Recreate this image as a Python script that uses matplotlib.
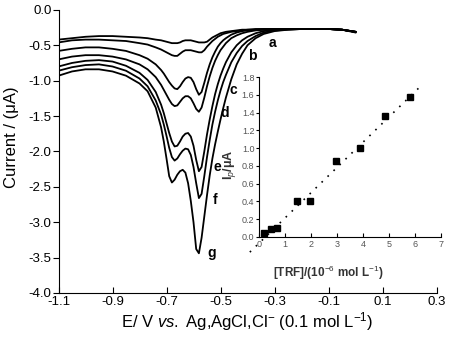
import matplotlib
matplotlib.use("Agg")
import matplotlib.pyplot as plt

plt.rcParams["font.family"] = ["Liberation Sans", "DejaVu Sans"]
plt.rcParams["axes.unicode_minus"] = False
plt.rcParams["mathtext.fontset"] = "custom"
plt.rcParams["mathtext.rm"] = "Liberation Sans"
plt.rcParams["mathtext.it"] = "Liberation Sans:italic"
plt.rcParams["mathtext.bf"] = "Liberation Sans:bold"

# potential grid (V)
E = [-1.10, -1.05, -1.00, -0.95, -0.90, -0.85, -0.80, -0.77, -0.74,
     -0.72, -0.71, -0.70, -0.69, -0.68, -0.67, -0.66, -0.65, -0.64, -0.63,
     -0.62, -0.61, -0.60, -0.59, -0.58, -0.57, -0.56, -0.55, -0.54, -0.53,
     -0.52, -0.51, -0.50, -0.49, -0.48,
     -0.46, -0.44, -0.42, -0.40, -0.37, -0.34, -0.30, -0.25, -0.20, -0.15,
     -0.10, -0.05, 0.00]

i_a = [-0.42, -0.40, -0.38, -0.37, -0.37, -0.38, -0.39, -0.40, -0.42,
       -0.43, -0.44, -0.45, -0.46, -0.47, -0.47, -0.47, -0.46, -0.44, -0.43,
       -0.43, -0.43, -0.44, -0.45, -0.46, -0.46, -0.46, -0.45, -0.42, -0.39,
       -0.37, -0.35, -0.33, -0.32, -0.31,
       -0.30, -0.29, -0.28, -0.28, -0.27, -0.27, -0.27, -0.27, -0.27, -0.27,
       -0.27, -0.28, -0.31]
i_b = [-0.46, -0.43, -0.42, -0.42, -0.43, -0.44, -0.47, -0.49, -0.53,
       -0.56, -0.58, -0.60, -0.62, -0.64, -0.65, -0.65, -0.62, -0.59, -0.57,
       -0.57, -0.57, -0.58, -0.59, -0.60, -0.60, -0.57, -0.52, -0.48, -0.44,
       -0.41, -0.38, -0.36, -0.34, -0.33,
       -0.31, -0.30, -0.29, -0.28, -0.28, -0.27, -0.27, -0.27, -0.27, -0.27,
       -0.27, -0.28, -0.31]
i_c = [-0.58, -0.55, -0.53, -0.53, -0.55, -0.58, -0.64, -0.69, -0.77,
       -0.85, -0.90, -0.96, -1.02, -1.07, -1.11, -1.12, -1.08, -1.02, -0.97,
       -0.95, -0.96, -1.02, -1.12, -1.20, -1.16, -1.03, -0.89, -0.77, -0.67,
       -0.59, -0.52, -0.47, -0.43, -0.40,
       -0.35, -0.32, -0.30, -0.29, -0.28, -0.28, -0.27, -0.27, -0.27, -0.27,
       -0.27, -0.28, -0.31]
i_d = [-0.70, -0.66, -0.64, -0.64, -0.66, -0.70, -0.77, -0.84, -0.95,
       -1.06, -1.13, -1.20, -1.27, -1.33, -1.36, -1.35, -1.30, -1.25, -1.22,
       -1.22, -1.25, -1.32, -1.40, -1.44, -1.38, -1.24, -1.08, -0.94, -0.82,
       -0.72, -0.64, -0.57, -0.52, -0.47,
       -0.40, -0.36, -0.33, -0.31, -0.29, -0.28, -0.27, -0.27, -0.27, -0.27,
       -0.27, -0.28, -0.31]
i_e = [-0.80, -0.75, -0.72, -0.71, -0.73, -0.79, -0.89, -0.99, -1.16,
       -1.34, -1.46, -1.60, -1.74, -1.86, -1.93, -1.92, -1.86, -1.79, -1.75,
       -1.74, -1.79, -1.92, -2.12, -2.28, -2.22, -2.00, -1.76, -1.55, -1.36,
       -1.19, -1.05, -0.93, -0.83, -0.74,
       -0.60, -0.50, -0.43, -0.38, -0.33, -0.30, -0.28, -0.27, -0.27, -0.27,
       -0.27, -0.28, -0.31]
i_f = [-0.86, -0.81, -0.78, -0.77, -0.80, -0.86, -0.97, -1.08, -1.28,
       -1.48, -1.62, -1.78, -1.95, -2.08, -2.13, -2.10, -2.04, -1.99, -1.96,
       -1.97, -2.05, -2.22, -2.45, -2.66, -2.60, -2.35, -2.08, -1.84, -1.62,
       -1.44, -1.28, -1.14, -1.02, -0.92,
       -0.74, -0.61, -0.51, -0.44, -0.37, -0.32, -0.29, -0.28, -0.27, -0.27,
       -0.27, -0.28, -0.31]
i_g = [-0.93, -0.87, -0.84, -0.84, -0.87, -0.93, -1.04, -1.15, -1.38,
       -1.66, -1.86, -2.10, -2.35, -2.44, -2.40, -2.33, -2.28, -2.26, -2.30,
       -2.45, -2.70, -3.00, -3.38, -3.44, -3.22, -2.92, -2.62, -2.34, -2.10,
       -1.90, -1.72, -1.55, -1.39, -1.24,
       -0.98, -0.77, -0.62, -0.50, -0.40, -0.34, -0.30, -0.28, -0.27, -0.27,
       -0.27, -0.28, -0.32]

curve_names = ["a", "b", "c", "d", "e", "f", "g"]
label_E = [-0.306, -0.384, -0.454, -0.484, -0.512, -0.521, -0.532]
label_I = [-0.47, -0.65, -1.13, -1.46, -2.22, -2.69, -3.43]

# calibration inset
conc = [0.2, 0.45, 0.7, 1.45, 1.95, 2.95, 3.9, 4.85, 5.8]
ip = [0.05, 0.09, 0.10, 0.40, 0.40, 0.86, 1.00, 1.36, 1.58]
fit_x = [-0.36, 6.2]
slope = 0.284
intercept = -0.068

fig = plt.figure(figsize=(4.5, 3.41), dpi=100)
ax = fig.add_axes([0.130, 0.141, 0.840, 0.830])

for cur in [i_a, i_b, i_c, i_d, i_e, i_f, i_g]:
    ax.plot(E, cur, color="black", lw=1.3)

for name, x, y in zip(curve_names, label_E, label_I):
    ax.text(x, y, name, fontsize=10, fontweight="bold", ha="center", va="center")

ax.set_xlim(-1.1, 0.3)
ax.set_ylim(-4.0, 0.0)
ax.set_xticks([-1.1, -0.9, -0.7, -0.5, -0.3, -0.1, 0.1, 0.3])
ax.set_yticks([0.0, -0.5, -1.0, -1.5, -2.0, -2.5, -3.0, -3.5, -4.0])
ax.set_xticklabels(["-1.1", "-0.9", "-0.7", "-0.5", "-0.3", "-0.1", "0.1", "0.3"])
ax.set_yticklabels(["0.0", "-0.5", "-1.0", "-1.5", "-2.0", "-2.5", "-3.0", "-3.5", "-4.0"])
ax.spines["top"].set_visible(False)
ax.spines["right"].set_visible(False)
ax.tick_params(axis="x", direction="in", length=4, labelsize=9.5, pad=2)
ax.tick_params(axis="y", direction="out", length=4, labelsize=9.5, pad=1)
ax.set_xlabel("E/ V $\\mathit{vs.}$ Ag,AgCl,Cl$^{-}$ (0.1 mol L$^{-1}$)", fontsize=12, labelpad=2)
ax.set_ylabel("Current / (\u03bcA)", fontsize=12, labelpad=2)
ax.yaxis.set_label_coords(-0.105, 0.55)

ins = fig.add_axes([0.576, 0.305, 0.404, 0.469])
ins.plot(conc, ip, "s", color="black", ms=5)
fx = [fit_x[0], fit_x[1]]
fy = [slope * fit_x[0] + intercept, slope * fit_x[1] + intercept]
ins.plot(fx, fy, color="black", lw=1.2, linestyle=(0, (1, 4)), clip_on=False)
ins.set_xlim(0, 7)
ins.set_ylim(0, 1.8)
ins.set_xticks(range(0, 8))
ins.set_yticks([0.0, 0.2, 0.4, 0.6, 0.8, 1.0, 1.2, 1.4, 1.6, 1.8])
ins.set_yticklabels(["0.0", "0.2", "0.4", "0.6", "0.8", "1.0", "1.2", "1.4", "1.6", "1.8"])
ins.patch.set_alpha(0)
ins.spines["top"].set_visible(False)
ins.spines["right"].set_visible(False)
ins.tick_params(axis="x", direction="in", length=3, labelsize=6.5, labelcolor="#555555", pad=2)
ins.tick_params(axis="y", direction="out", length=2.5, labelsize=6.5, labelcolor="#555555", pad=1)
ins.set_xlabel("[TRF]/(10$^{-6}$ mol L$^{-1}$)", fontsize=8.5, fontweight="bold", color="#333333")
ins.xaxis.set_label_coords(0.38, -0.17)
ins.set_ylabel("I$_p$/\u03bcA", fontsize=9, fontweight="bold", color="#333333")
ins.yaxis.set_label_coords(-0.115, 0.45)

fig.savefig("out.png", dpi=100)
